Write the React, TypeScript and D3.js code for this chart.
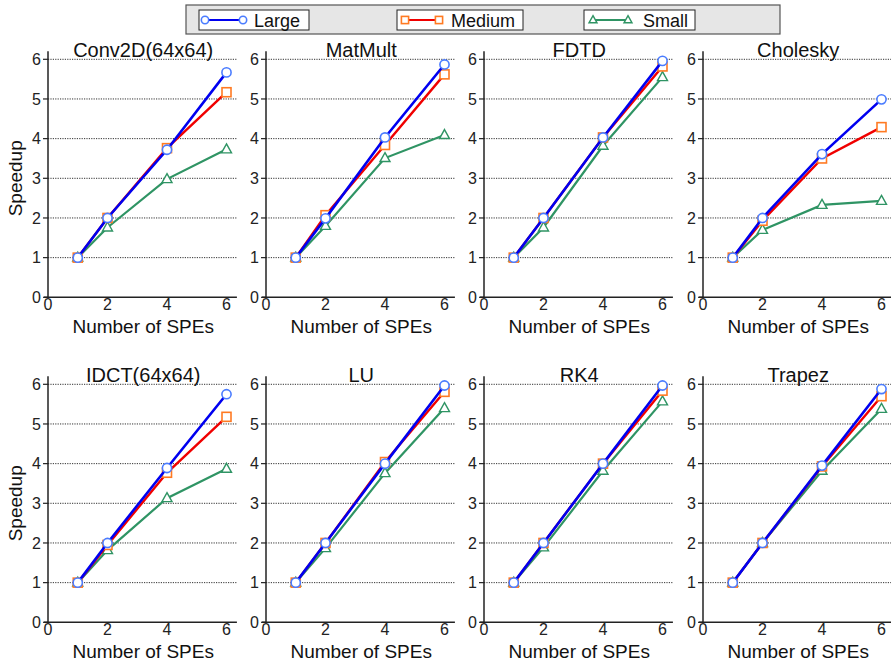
import React from "react";
import * as d3 from "d3";

const spes = [1, 2, 4, 6];
const titles = ["Conv2D(64x64)", "MatMult", "FDTD", "Cholesky", "IDCT(64x64)", "LU", "RK4", "Trapez"];
const seriesNames = ["Large", "Medium", "Small"];

const large = [
  [1, 2, 3.72, 5.67],
  [1, 1.99, 4.03, 5.87],
  [1, 2, 4.03, 5.96],
  [1, 2, 3.61, 4.99],
  [1, 2, 3.89, 5.75],
  [1, 2, 4.0, 5.97],
  [1, 2, 4.0, 5.97],
  [1, 2, 3.95, 5.88],
];
const medium = [
  [1, 2, 3.76, 5.17],
  [1, 2.07, 3.84, 5.62],
  [1, 2, 4.03, 5.82],
  [1, 1.93, 3.5, 4.29],
  [1, 1.95, 3.77, 5.18],
  [1, 2, 4.04, 5.81],
  [1, 2, 4.0, 5.84],
  [1, 2, 3.93, 5.7],
];
const small = [
  [1, 1.76, 2.98, 3.73],
  [1, 1.8, 3.51, 4.09],
  [1, 1.76, 3.82, 5.55],
  [1, 1.7, 2.33, 2.43],
  [1, 1.82, 3.13, 3.87],
  [1, 1.87, 3.76, 5.4],
  [1, 1.89, 3.82, 5.57],
  [1, 2, 3.82, 5.38],
];
const yTicks = [0, 1, 2, 3, 4, 5, 6];
const xTicks = [0, 2, 4, 6];

const font = "'Liberation Sans', Arial, sans-serif";
const styles = [
  { line: "#0000f0", mark: "#4a7cff", width: 2.6, shape: "circle" },
  { line: "#f00000", mark: "#ff7a22", width: 2.4, shape: "square" },
  { line: "#2f9464", mark: "#2f9464", width: 2.2, shape: "triangle" },
];

function Marker({ shape, x, y, color, k = 1 }: { shape: string; x: number; y: number; color: string; k?: number }) {
  if (shape === "circle")
    return <circle cx={x} cy={y} r={4.6 * k} fill="white" stroke={color} strokeWidth={1.6} />;
  if (shape === "square")
    return (
      <rect x={x - 4.5 * k} y={y - 4.5 * k} width={9 * k} height={9 * k} fill="white" stroke={color} strokeWidth={1.6} />
    );
  const p = d3.path();
  p.moveTo(x, y - 5.5 * k);
  p.lineTo(x + 5 * k, y + 3.5 * k);
  p.lineTo(x - 5 * k, y + 3.5 * k);
  p.closePath();
  return <path d={p.toString()} fill="white" stroke={color} strokeWidth={1.4} />;
}

function Panel({ idx }: { idx: number }) {
  const col = idx % 4;
  const row = Math.floor(idx / 4);
  const x0 = [48, 266, 484, 703][col];
  const yBase = row === 0 ? 297.3 : 622.3;
  const x = d3.scaleLinear().domain([0, 6]).range([x0, x0 + 178.5]);
  const y = d3.scaleLinear().domain([0, 6]).range([yBase, yBase - 238]);
  const xEnd = col === 3 ? 891 : x(6.35);
  const line = d3
    .line<number>()
    .x((_, i) => x(spes[i]))
    .y((d) => y(d));
  const data = [small[idx], medium[idx], large[idx]];
  const order = [2, 1, 0];
  return (
    <g>
      {yTicks.slice(1).map((t) => (
        <line key={t} x1={x(0)} x2={xEnd} y1={y(t)} y2={y(t)} stroke="#333" strokeWidth={1} strokeDasharray="1.2,1.2" />
      ))}
      <line x1={x(0)} x2={x(0)} y1={y(0)} y2={y(6.2)} stroke="#222" strokeWidth={1.5} />
      <line x1={x(0) - 4} x2={xEnd} y1={y(0)} y2={y(0)} stroke="#222" strokeWidth={1.5} />
      {yTicks.map((t) => (
        <g key={t}>
          <line x1={x(0) - 5} x2={x(0)} y1={y(t)} y2={y(t)} stroke="#222" strokeWidth={1.2} />
          <text x={x(0) - 7} y={y(t)} dy="0.35em" textAnchor="end" fontSize={16} fontFamily={font} fill="#222">
            {t}
          </text>
        </g>
      ))}
      {xTicks.map((t) => (
        <text key={t} x={x(t)} y={y(0) + 13} textAnchor="middle" fontSize={16} fontFamily={font} fill="#222">
          {t}
        </text>
      ))}
      <text x={x(3.2)} y={y(0) + 36} textAnchor="middle" fontSize={19} fontFamily={font} fill="#111">
        Number of SPEs
      </text>
      <text x={x(3.2)} y={y(6) - 2.5} textAnchor="middle" fontSize={20} fontFamily={font} fill="#111">
        {titles[idx]}
      </text>
      {col === 0 && (
        <text
          transform={`translate(22,${y(3)}) rotate(-90)`}
          textAnchor="middle"
          fontSize={19}
          fontFamily={font}
          fill="#111"
        >
          Speedup
        </text>
      )}
      {data.map((vals, k) => {
        const s = styles[order[k]];
        return (
          <g key={k}>
            <path d={line(vals) ?? ""} fill="none" stroke={s.line} strokeWidth={s.width} />
            {vals.map((v, i) => (
              <Marker key={i} shape={s.shape} x={x(spes[i])} y={y(v)} color={s.mark} />
            ))}
          </g>
        );
      })}
    </g>
  );
}

function Legend() {
  const boxes = [
    { x: 199, w: 110, l1: 205, l2: 243, tx: 254 },
    { x: 397, w: 126, l1: 405, l2: 439, tx: 451 },
    { x: 584, w: 111, l1: 593, l2: 628, tx: 643 },
  ];
  return (
    <g>
      <rect x={186} y={5} width={594} height={29} fill="#e6e6e6" stroke="#555" strokeWidth={1.2} />
      {boxes.map((b, i) => {
        const s = styles[i];
        return (
          <g key={i}>
            <rect x={b.x} y={10} width={b.w} height={20} fill="white" stroke="#222" strokeWidth={1} />
            <line x1={b.l1} x2={b.l2} y1={20} y2={20} stroke={s.line} strokeWidth={2} />
            <Marker shape={s.shape} x={b.l1} y={20} color={s.mark} k={0.8} />
            <Marker shape={s.shape} x={b.l2} y={20} color={s.mark} k={0.8} />
            <text x={b.tx} y={26.5} fontSize={18} fontFamily={font} fill="#111">
              {seriesNames[i]}
            </text>
          </g>
        );
      })}
    </g>
  );
}

export default function App() {
  return (
    <svg width={891} height={663} style={{ position: "absolute", left: 0, top: 0, background: "white" }}>
      <rect width={891} height={663} fill="white" />
      {titles.map((_, i) => (
        <Panel key={i} idx={i} />
      ))}
      <Legend />
    </svg>
  );
}
